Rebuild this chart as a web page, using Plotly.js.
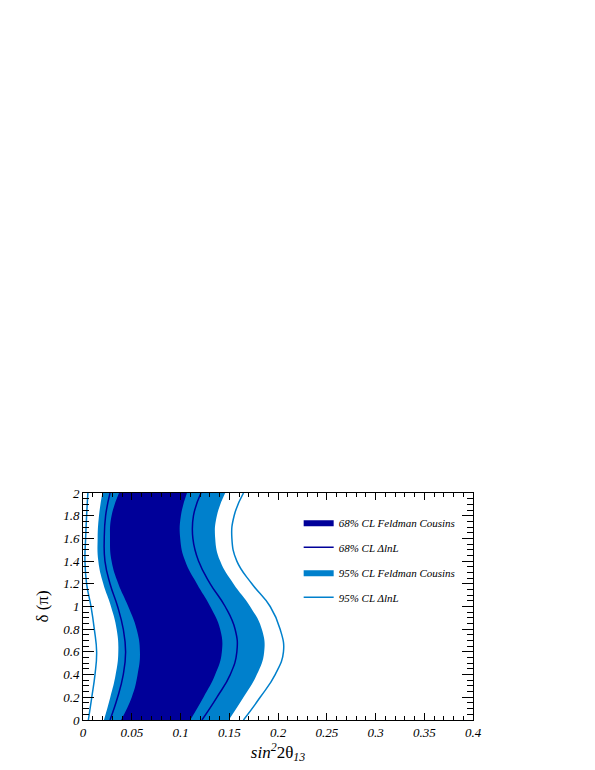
<!DOCTYPE html>
<html>
<head>
<meta charset="utf-8">
<script src="https://cdn.plot.ly/plotly-3.0.1.min.js"></script>
<style>html,body{margin:0;padding:0;background:#fff;}#plot{width:595px;height:770px;}</style>
</head>
<body>
<div id="plot"></div>
<script>
// delta (in units of pi)
const delta = [0, 0.2, 0.4, 0.6, 0.8, 1.0, 1.2, 1.4, 1.6, 1.8, 2.0];
// Feldman-Cousins 95% CL band edges
const fc95Left  = [0.0215, 0.028, 0.0335, 0.0362, 0.0345, 0.0287, 0.0208, 0.0157, 0.015, 0.0164, 0.0198];
const fc95Right = [0.1495, 0.1646, 0.1783, 0.1858, 0.1834, 0.1714, 0.1543, 0.1407, 0.1356, 0.1373, 0.1458];
// Feldman-Cousins 68% CL band edges
const fc68Left  = [0.039, 0.050, 0.056, 0.0584, 0.055, 0.0464, 0.0362, 0.0293, 0.0277, 0.0293, 0.0369];
const fc68Right = [0.110, 0.1236, 0.1356, 0.1424, 0.1407, 0.1305, 0.1168, 0.1048, 0.0997, 0.1004, 0.1066];
// Delta lnL contours
const lnl68Left  = [0.0277, 0.0355, 0.0413, 0.0437, 0.0413, 0.0355, 0.0277, 0.0225, 0.0218, 0.0232, 0.0277];
const lnl68Right = [0.122, 0.1373, 0.151, 0.1578, 0.156, 0.1458, 0.1305, 0.1185, 0.1127, 0.1133, 0.121];
const lnl95Left  = [0.0055, 0.009, 0.0123, 0.014, 0.0116, 0.0082, 0.0037, 0.002, 0.0027, 0.0037, 0.005];
const lnl95Right = [0.1646, 0.1817, 0.1971, 0.2056, 0.2022, 0.192, 0.1732, 0.1578, 0.1527, 0.155, 0.1646];

const labels = ["68% CL Feldman Cousins", "68% CL \u0394lnL", "95% CL Feldman Cousins", "95% CL \u0394lnL"];
const darkBlue = "#000099";
const lightBlue = "#0080CC";
const serif = "Liberation Serif, Times New Roman, serif";

const sp = {shape: "spline", smoothing: 1.3};

const traces = [
  {x: fc95Left, y: delta, mode: "lines", line: Object.assign({width: 0}, sp), showlegend: false, hoverinfo: "skip"},
  {x: fc95Right, y: delta, mode: "lines", line: Object.assign({width: 0}, sp), fill: "tonextx", fillcolor: lightBlue,
   name: labels[2], legendrank: 3, legendgroup: "c"},
  {x: fc68Left, y: delta, mode: "lines", line: Object.assign({width: 0}, sp), showlegend: false, hoverinfo: "skip"},
  {x: fc68Right, y: delta, mode: "lines", line: Object.assign({width: 0}, sp), fill: "tonextx", fillcolor: darkBlue,
   name: labels[0], legendrank: 1, legendgroup: "a"},
  {x: lnl68Left.concat([null], lnl68Right), y: delta.concat([null], delta), mode: "lines", connectgaps: false,
   line: Object.assign({color: darkBlue, width: 1.5}, sp), name: labels[1], legendrank: 2, legendgroup: "b"},
  {x: lnl95Left.concat([null], lnl95Right), y: delta.concat([null], delta), mode: "lines", connectgaps: false,
   line: Object.assign({color: lightBlue, width: 1.5}, sp), name: labels[3], legendrank: 4, legendgroup: "d"}
];

const tickFont = {family: serif, size: 13, color: "#000", style: "italic"};

const layout = {
  width: 595, height: 770,
  margin: {l: 82.7, r: 122, t: 492.7, b: 49.5},
  paper_bgcolor: "#fff", plot_bgcolor: "#fff",
  showlegend: true,
  legend: {
    x: 0.553, y: 0.935, xanchor: "left", yanchor: "top",
    bgcolor: "rgba(0,0,0,0)",
    traceorder: "grouped",
    font: {family: serif, size: 11, color: "#000", style: "italic"},
    tracegroupgap: 6
  },
  xaxis: {
    range: [0, 0.4], dtick: 0.05, tick0: 0, ticks: "inside", ticklen: 7, tickwidth: 1, tickcolor: "#000",
    showline: true, linecolor: "#000", linewidth: 1, mirror: "allticks", showgrid: false, zeroline: false,
    minor: {dtick: 0.01, ticks: "inside", ticklen: 4, tickcolor: "#000", showgrid: false},
    tickfont: tickFont, tickprefix: "<i>", ticksuffix: "</i>",
    title: {text: "<i>sin</i><sup><i>2</i></sup>2θ<sub><i>13</i></sub>", font: {family: serif, size: 17, color: "#000"}, standoff: 4}
  },
  yaxis: {
    range: [0, 2], dtick: 0.2, tick0: 0, ticks: "inside", ticklen: 11, tickwidth: 1, tickcolor: "#000",
    showline: true, linecolor: "#000", linewidth: 1, mirror: "allticks", showgrid: false, zeroline: false,
    minor: {dtick: 0.05, ticks: "inside", ticklen: 6, tickcolor: "#000", showgrid: false},
    tickfont: tickFont, tickprefix: "<i>", ticksuffix: "</i>",
    title: {text: "δ (π)", font: {family: serif, size: 17, color: "#000"}, standoff: 10}
  }
};

Plotly.newPlot("plot", traces, layout, {displayModeBar: false, staticPlot: true});
</script>
</body>
</html>
